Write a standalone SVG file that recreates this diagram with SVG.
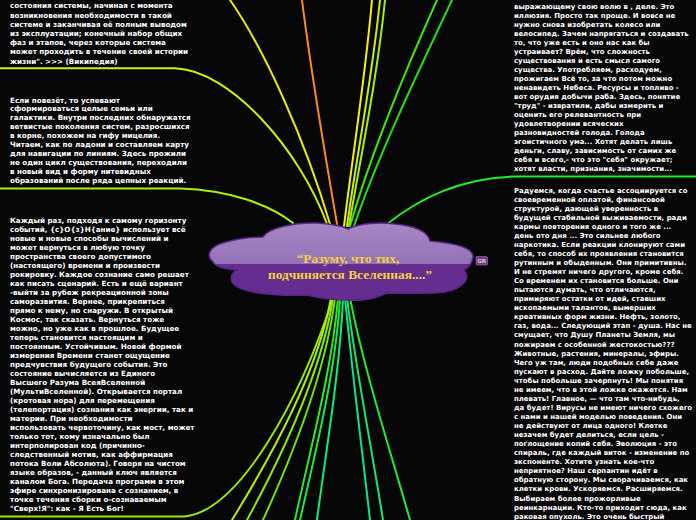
<svg xmlns="http://www.w3.org/2000/svg" width="696" height="520" viewBox="0 0 696 520">
<defs>
<linearGradient id="cloudFill" gradientUnits="userSpaceOnUse" x1="0" y1="223" x2="0" y2="300">
<stop offset="0" stop-color="#a887c6"/>
<stop offset="0.53" stop-color="#9472b6"/>
<stop offset="0.53" stop-color="#662d91"/>
<stop offset="1" stop-color="#662d91"/>
</linearGradient>
<style>
.t{font-family:"DejaVu Sans","Verdana",sans-serif;font-weight:bold;font-size:7.15px;fill:#ffffff}
.r{font-size:6.95px}
.c{fill:none;stroke-width:2;stroke-linecap:round}
.title{font-family:"Liberation Serif","Times New Roman",serif;font-weight:bold;font-size:13.4px;fill:#f2d23c;text-anchor:middle}
</style>
</defs>
<rect width="696" height="520" fill="#060606"/>
<g id="connectors">
<path class="c" d="M230,0 C265,50 305,140 330,224" stroke="#e8ea00"/>
<path class="c" d="M0,68.3 L175,68.3 C230,70 300,150 327,224" stroke="#d6ee00"/>
<path class="c" d="M302,0 C312,80 326,160 337,224" stroke="#ff8a1a"/>
<path class="c" d="M372,0 C365,80 352,160 344,226" stroke="#f4f400"/>
<path class="c" d="M380,0 C372,80 356,160 347,226" stroke="#c8f000"/>
<path class="c" d="M385,0 C377,80 360,160 349,226" stroke="#a8f000"/>
<path class="c" d="M437,0 C410,60 372,150 350,226" stroke="#3ee800"/>
<path class="c" d="M452,0 C424,60 380,150 354,226" stroke="#22e010"/>
<path class="c" d="M696,176.5 L515,176.5 C460,178 420,198 387,224" stroke="#22ee22"/>
<path class="c" d="M0,188.5 L180,188.5 C230,190 270,205 293,223" stroke="#aaf200"/>
<path class="c" d="M0,516.5 L185,516.5 C240,510 300,400 333,298" stroke="#99ea00"/>
<path class="c" d="M331,298 C318,370 275,450 232,520" stroke="#b0ee00"/>
<path class="c" d="M333,298 C322,370 285,450 247,520" stroke="#8cea00"/>
<path class="c" d="M335,298 C326,370 295,450 263,520" stroke="#6ee800"/>
<path class="c" d="M338,298 C332,370 310,450 295,520" stroke="#2eea22"/>
<path class="c" d="M340,298 C336,370 316,450 300,520" stroke="#18ec44"/>
<path class="c" d="M343,298 C340,370 326,450 317,520" stroke="#00f080" stroke-width="3.5"/>
<path class="c" d="M345,298 C352,370 362,450 370,520" stroke="#00e88c"/>
<path class="c" d="M347,298 C356,370 372,450 383,520" stroke="#10e870"/>
<path class="c" d="M350,298 C364,370 390,450 410,520" stroke="#22e830"/>
</g>
<g id="node-center">
<path d="M213,262 C205,255 210,246 226,242 C240,238 255,237 263,237 C268,228 295,222 318,223 C333,224 342,226 348,229 C360,223 380,222 395,224 C415,226 428,232 430,241 C455,243 474,248 473,257 C472,264 468,268 464,270 C472,280 460,292 435,293 C410,294 395,293 387,293 C375,299 360,301 347,300 C330,300 315,297 307,295 C290,296 255,295 240,288 C228,283 230,274 237,270 C225,269 215,266 213,262 Z" fill="url(#cloudFill)" stroke="#5a2488" stroke-width="1.5"/>
<text class="title" x="348" y="263">“Разуму, что тих,</text>
<text class="title" x="350" y="278.5">подчиняется Вселенная....”</text>
<rect x="476" y="256.5" width="11.5" height="8.5" rx="1" fill="#6e3b9c" stroke="#9a72c2" stroke-width="0.6"/>
<text x="481.7" y="263" font-family="DejaVu Sans,sans-serif" font-size="5.5" font-weight="bold" fill="#e2c878" text-anchor="middle">GR</text>
</g>
<g id="node-left-1">
<text class="t">
<tspan x="10" y="8.3">состояния системы, начиная с момента</tspan>
<tspan x="10" dy="9.2">возникновения необходимости в такой</tspan>
<tspan x="10" dy="9.2">системе и заканчивая её полным выводом</tspan>
<tspan x="10" dy="9.2">из эксплуатации; конечный набор общих</tspan>
<tspan x="10" dy="9.2">фаз и этапов, через которые система</tspan>
<tspan x="10" dy="9.2">может проходить в течение своей истории</tspan>
<tspan x="10" dy="9.2">жизни". &gt;&gt;&gt; (Википедия)</tspan>
</text>
</g>
<g id="node-left-2">
<text class="t">
<tspan x="10" y="102.5">Если повезёт, то успевают</tspan>
<tspan x="10" dy="8.9">сформироваться целые семьи или</tspan>
<tspan x="10" dy="8.9">галактики. Внутри последних обнаружатся</tspan>
<tspan x="10" dy="8.9">ветвистые поколения систем, разросшихся</tspan>
<tspan x="10" dy="8.9">в корне, похожем на гифу мицелия.</tspan>
<tspan x="10" dy="8.9">Читаем, как по ладони и составляем карту</tspan>
<tspan x="10" dy="8.9">для навигации по линиям. Здесь прожили</tspan>
<tspan x="10" dy="8.9">не один цикл существования, переходили</tspan>
<tspan x="10" dy="8.9">в новый вид и форму нитевидных</tspan>
<tspan x="10" dy="8.9">образований после ряда цепных реакций.</tspan>
</text>
</g>
<g id="node-left-3">
<text class="t">
<tspan x="10" y="222.5">Каждый раз, подходя к самому горизонту</tspan>
<tspan x="10" dy="9">событий, {с}О{з}Н{ание} использует всё</tspan>
<tspan x="10" dy="9">новые и новые способы вычислений и</tspan>
<tspan x="10" dy="9">может вернуться в любую точку</tspan>
<tspan x="10" dy="9">пространства своего допустимого</tspan>
<tspan x="10" dy="9">(настоящего) времени и произвести</tspan>
<tspan x="10" dy="9">рокировку. Каждое сознание само решает</tspan>
<tspan x="10" dy="9">как писать сценарий. Есть и ещё вариант</tspan>
<tspan x="10" dy="9">-выйти за рубеж рекреационной зоны</tspan>
<tspan x="10" dy="9">саморазвития. Вернее, прикрепиться</tspan>
<tspan x="10" dy="9">прямо к нему, но снаружи. В открытый</tspan>
<tspan x="10" dy="9">Космос, так сказать. Вернуться тоже</tspan>
<tspan x="10" dy="9">можно, но уже как в прошлое. Будущее</tspan>
<tspan x="10" dy="9">теперь становится настоящим и</tspan>
<tspan x="10" dy="9">постоянным. Устойчивым. Новой формой</tspan>
<tspan x="10" dy="9">измерения Времени станет ощущение</tspan>
<tspan x="10" dy="9">предчувствия будущего события. Это</tspan>
<tspan x="10" dy="9">состояние вычисляется из Единого</tspan>
<tspan x="10" dy="9">Высшего Разума ВсеяВселенной</tspan>
<tspan x="10" dy="9">(МультиВселенной). Открывается портал</tspan>
<tspan x="10" dy="9">(кротовая нора) для перемещения</tspan>
<tspan x="10" dy="9">(телепортация) сознания как энергии, так и</tspan>
<tspan x="10" dy="9">материи. При необходимости</tspan>
<tspan x="10" dy="9">использовать червоточину, как мост, может</tspan>
<tspan x="10" dy="9">только тот, кому изначально был</tspan>
<tspan x="10" dy="9">интерполирован код (причинно-</tspan>
<tspan x="10" dy="9">следственный мотив, как аффирмация</tspan>
<tspan x="10" dy="9">потока Воли Абсолюта). Говоря на чистом</tspan>
<tspan x="10" dy="9">языке образов, - данный ключ является</tspan>
<tspan x="10" dy="9">каналом Бога. Передача программ в этом</tspan>
<tspan x="10" dy="9">эфире синхронизирована с сознанием, в</tspan>
<tspan x="10" dy="9">точке течения сборки о-сознаваемым</tspan>
<tspan x="10" dy="9">"Сверх!Я": как - Я Есть Бог!</tspan>
</text>
</g>
<g id="node-right-1">
<text class="t r">
<tspan x="514" y="8.5">выражающему свою волю в   , деле. Это</tspan>
<tspan x="514" dy="9.02">иллюзия. Просто так проще. И вовсе не</tspan>
<tspan x="514" dy="9.02">нужно снова изобретать колесо или</tspan>
<tspan x="514" dy="9.02">велосипед. Зачем напрягаться и создавать</tspan>
<tspan x="514" dy="9.02">то, что уже есть и оно нас как бы</tspan>
<tspan x="514" dy="9.02">устраивает? Врём, что сложность</tspan>
<tspan x="514" dy="9.02">существования и есть смысл самого</tspan>
<tspan x="514" dy="9.02">существа. Употребляем, расходуем,</tspan>
<tspan x="514" dy="9.02">прожигаем Всё то, за что потом можно</tspan>
<tspan x="514" dy="9.02">ненавидеть Небеса. Ресурсы и топливо -</tspan>
<tspan x="514" dy="9.02">вот орудия добычи раба. Здесь, понятие</tspan>
<tspan x="514" dy="9.02">"труд" - извратили, дабы измерить и</tspan>
<tspan x="514" dy="9.02">оценить его релевантность при</tspan>
<tspan x="514" dy="9.02">удовлетворении всяческих</tspan>
<tspan x="514" dy="9.02">разновидностей голода. Голода</tspan>
<tspan x="514" dy="9.02">эгоистичного ума...  Хотят делать лишь</tspan>
<tspan x="514" dy="9.02">деньги, славу, зависимость от самих же</tspan>
<tspan x="514" dy="9.02">себя и всего,- что это "себя" окружает;</tspan>
<tspan x="514" dy="9.02">хотят власти, признания, значимости...</tspan>
</text>
</g>
<g id="node-right-2">
<text class="t r">
<tspan x="514" y="192.5">Радуемся, когда счастье ассоциируется со</tspan>
<tspan x="514" dy="9.06">своевременной оплатой, финансовой</tspan>
<tspan x="514" dy="9.06">структурой, дающей уверенность в</tspan>
<tspan x="514" dy="9.06">будущей стабильной выживаемости, ради</tspan>
<tspan x="514" dy="9.06">кармы повторения одного и того же ...</tspan>
<tspan x="514" dy="9.06">день ото дня ... Это сильнее любого</tspan>
<tspan x="514" dy="9.06">наркотика. Если реакции клонируют сами</tspan>
<tspan x="514" dy="9.06">себя, то способ их проявления становится</tspan>
<tspan x="514" dy="9.06">рутинным и обыденным. Они примитивны.</tspan>
<tspan x="514" dy="9.06">И не стремят ничего другого, кроме себя.</tspan>
<tspan x="514" dy="9.06">Со временем их становится больше. Они</tspan>
<tspan x="514" dy="9.06">пытаются думать, что отличаются,</tspan>
<tspan x="514" dy="9.06">примиряют остатки от идей, ставших</tspan>
<tspan x="514" dy="9.06">ископаемыми талантов, вымерших</tspan>
<tspan x="514" dy="9.06">креативных форм жизни. Нефть, золото,</tspan>
<tspan x="514" dy="9.06">газ, вода... Следующий этап - душа. Нас не</tspan>
<tspan x="514" dy="9.06">смущает, что Душу Планеты Земля, мы</tspan>
<tspan x="514" dy="9.06">пожираем с особенной жестокостью???</tspan>
<tspan x="514" dy="9.06">Животные, растения, минералы, эфиры.</tspan>
<tspan x="514" dy="9.06">Чего уж там, люди подобных себе даже</tspan>
<tspan x="514" dy="9.06">пускают в расход. Дайте ложку побольше,</tspan>
<tspan x="514" dy="9.06">чтобы побольше зачерпнуть! Мы понятия</tspan>
<tspan x="514" dy="9.06">не имеем, что в этой ложке окажется. Нам</tspan>
<tspan x="514" dy="9.06">плевать! Главное, — что там что-нибудь,</tspan>
<tspan x="514" dy="9.06">да будет! Вирусы не имеют ничего схожего</tspan>
<tspan x="514" dy="9.06">с нами и нашей моделью поведения. Они</tspan>
<tspan x="514" dy="9.06">не действуют от лица одного! Клетке</tspan>
<tspan x="514" dy="9.06">незачем будет делиться, если цель -</tspan>
<tspan x="514" dy="9.06">поглощение копий себя. Эволюция - это</tspan>
<tspan x="514" dy="9.06">спираль, где каждый виток - изменение по</tspan>
<tspan x="514" dy="9.06">экспоненте. Хотите узнать кое-что</tspan>
<tspan x="514" dy="9.06">неприятное? Наш серпантин идёт в</tspan>
<tspan x="514" dy="9.06">обратную сторону. Мы сворачиваемся, как</tspan>
<tspan x="514" dy="9.06">клетки крови. Ускоряемся. Расширяемся.</tspan>
<tspan x="514" dy="9.06">Выбираем более прожорливые</tspan>
<tspan x="514" dy="9.06">реинкарнации. Кто-то приходит сюда, как</tspan>
<tspan x="514" dy="9.06">раковая опухоль. Это очень быстрый</tspan>
</text>
</g>
</svg>
